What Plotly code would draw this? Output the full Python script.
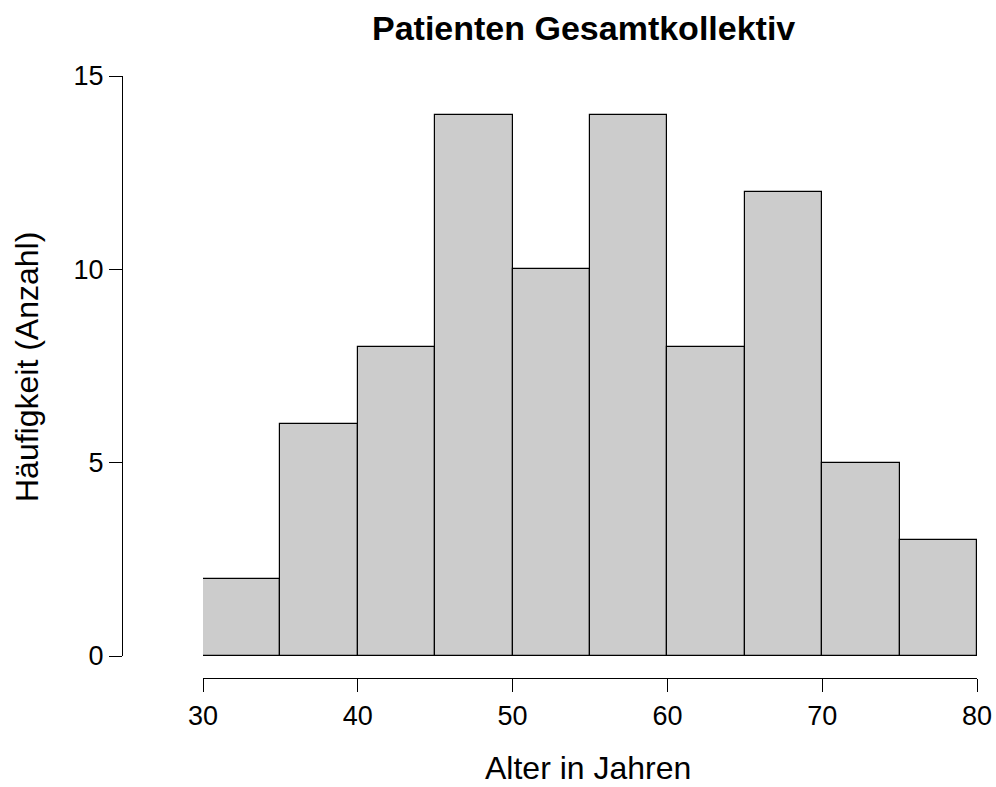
import plotly.graph_objects as go

# Age histogram: bin edges (years) and patient counts per bin
bin_edges = [30, 35, 40, 45, 50, 55, 60, 65, 70, 75, 80]
counts = [2, 6, 8, 14, 10, 14, 8, 12, 5, 3]
x_ticks = [30, 40, 50, 60, 70, 80]
y_ticks = [0, 5, 10, 15]

title_text = "Patienten Gesamtkollektiv"
x_title = "Alter in Jahren"
y_title = "Häufigkeit (Anzahl)"

W, H = 996, 787
centers = [(a + b) / 2 for a, b in zip(bin_edges[:-1], bin_edges[1:])]
widths = [b - a for a, b in zip(bin_edges[:-1], bin_edges[1:])]

FONT = "Liberation Sans, Arial, sans-serif"

fig = go.Figure(
    go.Bar(
        x=centers,
        y=counts,
        width=widths,
        marker=dict(color="#CCCCCC", line=dict(color="#000000", width=1.2)),
        hoverinfo="x+y",
    )
)

# plotting region in pixels
px_left, px_right = 203, 977
px_top, px_bottom = 76, 656

fig.update_layout(
    template="none",
    width=W,
    height=H,
    autosize=False,
    margin=dict(l=0, r=0, t=0, b=0, pad=0, autoexpand=False),
    paper_bgcolor="white",
    plot_bgcolor="white",
    showlegend=False,
    bargap=0,
    font=dict(family=FONT, color="#000000"),
    xaxis=dict(
        range=[bin_edges[0], bin_edges[-1]],
        domain=[px_left / W, px_right / W],
        anchor="free",
        position=(H - 678) / H,
        automargin=False,
        tickvals=x_ticks,
        ticks="outside",
        ticklen=13,
        tickwidth=1.2,
        tickcolor="#000000",
        showline=True,
        linecolor="#000000",
        linewidth=1.2,
        showgrid=False,
        zeroline=False,
        tickfont=dict(size=27, family=FONT),
        fixedrange=True,
    ),
    yaxis=dict(
        range=[y_ticks[0], y_ticks[-1]],
        domain=[(H - px_bottom) / H, (H - px_top) / H],
        anchor="free",
        position=122 / W,
        automargin=False,
        tickvals=y_ticks,
        ticks="outside",
        ticklen=13,
        tickwidth=1.2,
        tickcolor="#000000",
        showline=True,
        linecolor="#000000",
        linewidth=1.2,
        showgrid=False,
        zeroline=False,
        tickfont=dict(size=27, family=FONT),
        fixedrange=True,
    ),
    annotations=[
        dict(
            text="<b>" + title_text + "</b>",
            x=583 / W, y=(H - 28) / H, xref="paper", yref="paper",
            xanchor="center", yanchor="middle", showarrow=False,
            font=dict(size=34, family=FONT),
        ),
        dict(
            text=x_title,
            x=588 / W, y=(H - 768) / H, xref="paper", yref="paper",
            xanchor="center", yanchor="middle", showarrow=False,
            font=dict(size=32, family=FONT),
        ),
        dict(
            text=y_title,
            x=27 / W, y=(H - 367) / H, xref="paper", yref="paper",
            xanchor="center", yanchor="middle", showarrow=False,
            textangle=-90,
            font=dict(size=32, family=FONT),
        ),
    ],
)

fig.write_html("out.html")
